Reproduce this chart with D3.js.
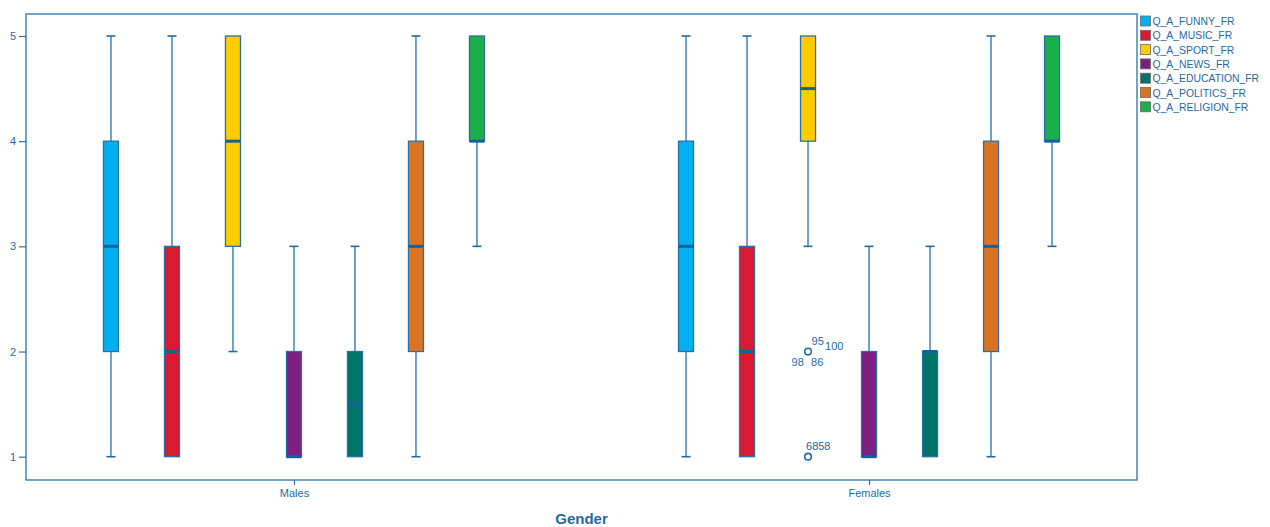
<!DOCTYPE html>
<html><head><meta charset="utf-8">
<script src="https://cdn.jsdelivr.net/npm/d3@7"></script>
<style>body{margin:0;background:#fff}svg{display:block;font-family:"Liberation Sans",Arial,sans-serif}</style>
</head><body><svg id="c" width="1270" height="527"></svg>
<script>
const groups = ["Males", "Females"];
const series = ["Q_A_FUNNY_FR","Q_A_MUSIC_FR","Q_A_SPORT_FR","Q_A_NEWS_FR","Q_A_EDUCATION_FR","Q_A_POLITICS_FR","Q_A_RELIGION_FR"];
const colors = ["#00b0f0","#da1a32","#ffcc00","#7e1e80","#007468","#dc7320","#1aaf4b"];
const yTicks = [1,2,3,4,5];
// [min, q1, median, q3, max] per series
const malesStats = [[1,2,3,4,5],[1,1,2,3,5],[2,3,4,5,5],[1,1,1,2,3],[1,1,1.5,2,3],[1,2,3,4,5],[3,4,4,5,5]];
const femalesStats = [[1,2,3,4,5],[1,1,2,3,5],[3,4,4.5,5,5],[1,1,1,2,3],[1,1,2,2,3],[1,2,3,4,5],[3,4,4,5,5]];
const outlierGroup = "Females", outlierSeries = "Q_A_SPORT_FR";
const outlierValues = [2, 1];
const outlierLabels = [["95","100","98","86"],["6858"]];

const svg = d3.select("#c");
const L = 26, R = 1137, T = 14, B = 480;
const textCol = "#1f6aa5", lineCol = "#2a72ad";
const y = d3.scaleLinear().domain([1,5]).range([456.7,36]);
const x = d3.scalePoint().domain(groups).range([L,R]).padding(0.466);
const inner = d3.scalePoint().domain(series).range([-183,183]);
const bw = 15;

svg.append("rect").attr("x",L).attr("y",T).attr("width",R-L).attr("height",B-T)
  .attr("fill","none").attr("stroke",lineCol).attr("stroke-width",1.3);

// y axis
const ya = svg.append("g").attr("transform",`translate(${L},0)`)
  .call(d3.axisLeft(y).tickValues(yTicks).tickFormat(d3.format("d")).tickSize(7).tickPadding(3));
ya.select(".domain").remove();
ya.selectAll("line").attr("stroke",lineCol).attr("stroke-width",1.2);
ya.selectAll("text").attr("fill",textCol).attr("font-size",11).attr("font-family","Liberation Sans, Arial");

// x axis
const xa = svg.append("g").attr("transform",`translate(0,${B})`)
  .call(d3.axisBottom(x).tickSize(5).tickPadding(4));
xa.select(".domain").remove();
xa.selectAll("line").attr("stroke",lineCol).attr("stroke-width",1.2);
xa.selectAll("text").attr("fill",textCol).attr("font-size",11).attr("font-family","Liberation Sans, Arial");

svg.append("text").attr("x",(L+R)/2).attr("y",524).attr("text-anchor","middle")
  .attr("font-size",15).attr("font-weight","bold").attr("fill","#1f6aa5").text("Gender");

const allStats = {Males: malesStats, Females: femalesStats};
groups.forEach(g => {
  allStats[g].forEach((s, i) => {
    const cx = x(g) + inner(series[i]);
    const [mn,q1,md,q3,mx] = s;
    const gg = svg.append("g");
    if (mx > q3) {
      gg.append("line").attr("x1",cx).attr("x2",cx).attr("y1",y(mx)).attr("y2",y(q3))
        .attr("stroke","#4a8cc2").attr("stroke-width",1.6);
      gg.append("line").attr("x1",cx-4.5).attr("x2",cx+4.5).attr("y1",y(mx)).attr("y2",y(mx))
        .attr("stroke","#1f6aa5").attr("stroke-width",1.6);
    }
    if (mn < q1) {
      gg.append("line").attr("x1",cx).attr("x2",cx).attr("y1",y(q1)).attr("y2",y(mn))
        .attr("stroke","#4a8cc2").attr("stroke-width",1.6);
      gg.append("line").attr("x1",cx-4.5).attr("x2",cx+4.5).attr("y1",y(mn)).attr("y2",y(mn))
        .attr("stroke","#1f6aa5").attr("stroke-width",1.6);
    }
    gg.append("rect").attr("x",cx-bw/2).attr("y",y(q3)).attr("width",bw).attr("height",y(q1)-y(q3))
      .attr("fill",colors[i]).attr("stroke","#2a6fa8").attr("stroke-width",1.3);
    gg.append("line").attr("x1",cx-bw/2).attr("x2",cx+bw/2).attr("y1",y(md)).attr("y2",y(md))
      .attr("stroke","#15609c").attr("stroke-width",3);
  });
});

// outliers
const ox = x(outlierGroup) + inner(outlierSeries);
outlierValues.forEach((v, k) => {
  svg.append("circle").attr("cx",ox).attr("cy",y(v)).attr("r",3.3)
    .attr("fill","#fff").attr("stroke","#1f6aa5").attr("stroke-width",1.6);
});
const lab = (t, dx, dy) => svg.append("text").attr("x",ox+dx).attr("y",dy).attr("font-size",11)
  .attr("fill",textCol).text(t);
const y2 = y(outlierValues[0]), y1 = y(outlierValues[1]);
lab(outlierLabels[0][0], 3.5, y2-6.5);
lab(outlierLabels[0][1], 17, y2-1.5);
lab(outlierLabels[0][2], -16.5, y2+14);
lab(outlierLabels[0][3], 3, y2+14);
lab(outlierLabels[1][0], -2, y1-7);

// legend
const lg = svg.append("g").attr("transform","translate(1140,14)");
series.forEach((s,i)=>{
  const r = lg.append("g").attr("transform",`translate(0,${i*14.3})`);
  r.append("rect").attr("x",0.5).attr("y",2).attr("width",10).attr("height",10)
    .attr("fill",colors[i]).attr("stroke","#6b6b6b").attr("stroke-width",0.8);
  r.append("text").attr("x",12.5).attr("y",11).attr("font-size",10.4).attr("fill",textCol).text(s);
});
</script></body></html>
